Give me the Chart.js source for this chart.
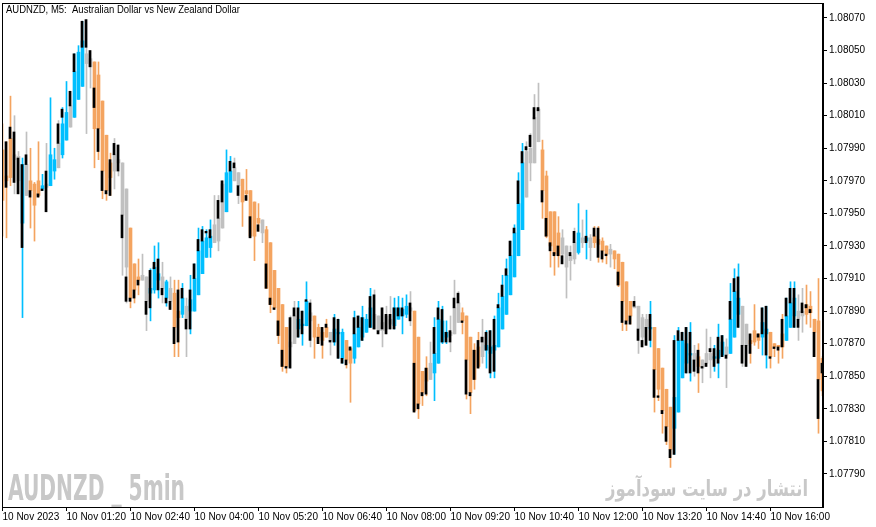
<!DOCTYPE html>
<html>
<head>
<meta charset="utf-8">
<script src="https://cdn.jsdelivr.net/npm/chart.js@4.4.0/dist/chart.umd.min.js"></script>
<style>
  html, body { margin: 0; padding: 0; background: #fff; }
  #wrap { width: 876px; height: 527px; }
</style>
</head>
<body>
<div id="wrap"><canvas id="grafica" width="876" height="527"></canvas></div>
<script>
// AUDNZD M5, 10 Nov 2023 - coloured candles (u = up / blue, d = down / orange, n = neutral / grey)
const open = [
1.07989,1.07973,1.07996,1.07986,1.07985,1.07944,1.07980,1.07970,1.07968,1.07970,
1.07965,1.07968,1.07967,1.07976,1.07993,1.07986,1.07995,1.08016,1.08009,1.08020,
1.08028,1.08048,1.08045,1.08043,1.08035,1.08019,1.07998,1.07981,1.07986,1.07983,
1.07981,1.07965,1.07941,1.07919,1.07911,1.07912,1.07911,1.07901,1.07903,1.07909,
1.07911,1.07898,1.07904,1.07901,1.07890,1.07888,1.07893,1.07890,1.07890,1.07900,
1.07913,1.07923,1.07929,1.07943,1.07947,1.07968,1.07951,1.07963,1.07978,1.07975,
1.07971,1.07964,1.07964,1.07957,1.07947,1.07946,1.07940,1.07932,1.07915,1.07904,
1.07894,1.07880,1.07871,1.07887,1.07879,1.07881,1.07881,1.07889,1.07887,1.07880,
1.07877,1.07880,1.07877,1.07871,1.07876,1.07861,1.07872,1.07867,1.07861,1.07868,
1.07874,1.07877,1.07880,1.07888,1.07887,1.07883,1.07887,1.07885,1.07881,1.07885,
1.07887,1.07888,1.07892,1.07890,1.07874,1.07853,1.07855,1.07858,1.07852,1.07858,
1.07871,1.07874,1.07877,1.07892,1.07895,1.07889,1.07887,1.07874,1.07866,1.07868,
1.07874,1.07866,1.07864,1.07866,1.07868,1.07879,1.07888,1.07900,1.07911,1.07924,
1.07940,1.07988,1.07990,1.08009,1.08014,1.07989,1.07973,1.07951,1.07951,1.07938,
1.07935,1.07930,1.07924,1.07932,1.07926,1.07935,1.07933,1.07935,1.07936,1.07934,
1.07933,1.07930,1.07928,1.07927,1.07925,1.07920,1.07908,1.07896,1.07893,1.07893,
1.07886,1.07885,1.07879,1.07880,1.07867,1.07855,1.07842,1.07831,1.07818,1.07828,
1.07849,1.07858,1.07863,1.07864,1.07862,1.07860,1.07864,1.07864,1.07861,1.07861,
1.07863,1.07868,1.07864,1.07874,1.07888,1.07893,1.07882,1.07872,1.07878,1.07876,
1.07874,1.07876,1.07877,1.07870,1.07869,1.07876,1.07872,1.07880,1.07887,1.07890,
1.07890,1.07894,1.07893,1.07885,1.07884,1.07861];
const close = [
1.07958,1.07970,1.07972,1.07983,1.07970,1.07980,1.07961,1.07964,1.07955,1.07961,
1.07967,1.07966,1.07986,1.07983,1.07978,1.08005,1.08012,1.08003,1.08037,1.08049,
1.08056,1.08042,1.08040,1.08002,1.08002,1.07976,1.07964,1.07972,1.07976,1.07981,
1.07949,1.07917,1.07898,1.07903,1.07909,1.07909,1.07896,1.07904,1.07917,1.07913,
1.07904,1.07908,1.07896,1.07880,1.07886,1.07898,1.07885,1.07897,1.07910,1.07927,
1.07933,1.07935,1.07936,1.07932,1.07933,1.07941,1.07975,1.07976,1.07970,1.07967,
1.07957,1.07962,1.07936,1.07936,1.07944,1.07938,1.07904,1.07894,1.07892,1.07875,
1.07856,1.07856,1.07868,1.07870,1.07885,1.07882,1.07896,1.07884,1.07874,1.07874,
1.07872,1.07874,1.07872,1.07879,1.07877,1.07877,1.07860,1.07858,1.07876,1.07880,
1.07886,1.07885,1.07892,1.07879,1.07878,1.07878,1.07879,1.07882,1.07892,1.07892,
1.07891,1.07893,1.07890,1.07829,1.07833,1.07840,1.07847,1.07848,1.07864,1.07885,
1.07884,1.07877,1.07875,1.07876,1.07883,1.07884,1.07860,1.07840,1.07848,1.07856,
1.07862,1.07869,1.07868,1.07869,1.07892,1.07899,1.07912,1.07924,1.07938,1.07956,
1.07981,1.07960,1.07981,1.07981,1.07994,1.07964,1.07936,1.07930,1.07925,1.07924,
1.07925,1.07917,1.07921,1.07922,1.07938,1.07932,1.07935,1.07929,1.07932,1.07931,
1.07927,1.07925,1.07925,1.07922,1.07906,1.07896,1.07884,1.07887,1.07892,1.07879,
1.07874,1.07880,1.07880,1.07854,1.07842,1.07829,1.07819,1.07805,1.07837,1.07872,
1.07872,1.07870,1.07864,1.07860,1.07856,1.07855,1.07858,1.07860,1.07862,1.07866,
1.07871,1.07863,1.07885,1.07902,1.07898,1.07869,1.07869,1.07870,1.07871,1.07872,
1.07883,1.07879,1.07862,1.07868,1.07868,1.07868,1.07887,1.07895,1.07898,1.07885,
1.07887,1.07888,1.07889,1.07877,1.07848,1.07841];
const high = [
1.08005,1.07994,1.08022,1.08010,1.07988,1.07984,1.08000,1.07990,1.07969,1.07994,
1.07974,1.07993,1.08021,1.07990,1.08007,1.08015,1.08031,1.08025,1.08048,1.08053,
1.08068,1.08069,1.08050,1.08043,1.08043,1.08019,1.07998,1.07987,1.07996,1.07992,
1.07981,1.07965,1.07941,1.07919,1.07922,1.07925,1.07911,1.07916,1.07930,1.07932,
1.07920,1.07909,1.07911,1.07909,1.07909,1.07907,1.07898,1.07912,1.07919,1.07941,
1.07942,1.07940,1.07946,1.07961,1.07961,1.07970,1.07989,1.07985,1.07984,1.07975,
1.07971,1.07977,1.07964,1.07957,1.07956,1.07946,1.07942,1.07932,1.07915,1.07904,
1.07894,1.07880,1.07887,1.07896,1.07896,1.07890,1.07908,1.07897,1.07887,1.07882,
1.07880,1.07885,1.07877,1.07888,1.07885,1.07879,1.07872,1.07868,1.07890,1.07887,
1.07893,1.07888,1.07904,1.07903,1.07887,1.07892,1.07893,1.07899,1.07898,1.07899,
1.07898,1.07900,1.07902,1.07890,1.07874,1.07853,1.07862,1.07871,1.07886,1.07896,
1.07893,1.07884,1.07887,1.07909,1.07902,1.07892,1.07887,1.07874,1.07870,1.07877,
1.07885,1.07878,1.07878,1.07887,1.07901,1.07912,1.07922,1.07933,1.07943,1.07975,
1.07993,1.07994,1.07999,1.08023,1.08030,1.07995,1.07976,1.07951,1.07951,1.07948,
1.07940,1.07930,1.07930,1.07941,1.07956,1.07946,1.07952,1.07937,1.07942,1.07942,
1.07935,1.07930,1.07931,1.07927,1.07925,1.07920,1.07908,1.07896,1.07899,1.07893,
1.07888,1.07888,1.07896,1.07880,1.07867,1.07855,1.07842,1.07831,1.07875,1.07880,
1.07877,1.07880,1.07883,1.07869,1.07870,1.07860,1.07879,1.07874,1.07869,1.07882,
1.07875,1.07873,1.07907,1.07916,1.07919,1.07893,1.07882,1.07876,1.07894,1.07876,
1.07892,1.07893,1.07877,1.07870,1.07869,1.07888,1.07898,1.07908,1.07908,1.07900,
1.07904,1.07906,1.07902,1.07885,1.07910,1.07862];
const low = [
1.07936,1.07935,1.07967,1.07962,1.07962,1.07886,1.07961,1.07941,1.07933,1.07960,
1.07964,1.07951,1.07967,1.07971,1.07978,1.07984,1.07995,1.08003,1.08009,1.08020,
1.08028,1.07999,1.08027,1.07978,1.07983,1.07959,1.07958,1.07961,1.07965,1.07973,
1.07912,1.07895,1.07892,1.07895,1.07900,1.07909,1.07878,1.07884,1.07901,1.07898,
1.07895,1.07893,1.07891,1.07862,1.07862,1.07886,1.07862,1.07876,1.07890,1.07900,
1.07913,1.07923,1.07923,1.07932,1.07927,1.07941,1.07951,1.07963,1.07970,1.07956,
1.07942,1.07958,1.07935,1.07921,1.07939,1.07932,1.07904,1.07889,1.07891,1.07870,
1.07853,1.07852,1.07855,1.07870,1.07874,1.07869,1.07881,1.07868,1.07861,1.07870,
1.07861,1.07874,1.07863,1.07869,1.07861,1.07858,1.07855,1.07834,1.07858,1.07868,
1.07872,1.07877,1.07880,1.07879,1.07876,1.07868,1.07876,1.07879,1.07879,1.07885,
1.07876,1.07886,1.07881,1.07828,1.07824,1.07832,1.07838,1.07848,1.07835,1.07858,
1.07870,1.07870,1.07865,1.07876,1.07883,1.07876,1.07836,1.07827,1.07842,1.07855,
1.07858,1.07855,1.07849,1.07849,1.07868,1.07879,1.07888,1.07900,1.07911,1.07924,
1.07940,1.07960,1.07970,1.07981,1.07994,1.07947,1.07935,1.07917,1.07912,1.07917,
1.07919,1.07898,1.07909,1.07919,1.07925,1.07929,1.07922,1.07921,1.07929,1.07920,
1.07920,1.07919,1.07917,1.07916,1.07905,1.07878,1.07878,1.07882,1.07892,1.07864,
1.07868,1.07869,1.07868,1.07828,1.07835,1.07815,1.07808,1.07794,1.07802,1.07828,
1.07849,1.07852,1.07847,1.07850,1.07840,1.07846,1.07856,1.07849,1.07853,1.07849,
1.07862,1.07843,1.07864,1.07874,1.07880,1.07856,1.07856,1.07858,1.07869,1.07867,
1.07863,1.07855,1.07855,1.07862,1.07858,1.07861,1.07872,1.07880,1.07880,1.07872,
1.07877,1.07882,1.07880,1.07862,1.07815,1.07838];
// plain chart candles, drawn as the thin black bodies
const realOpen = [
null,1.07994,1.08003,1.08000,1.07984,1.07929,1.07986,1.07964,null,1.07962,
1.07964,1.07976,null,null,1.08005,1.08009,null,1.08025,1.08037,null,
1.08052,1.08069,1.08050,1.08027,1.08002,1.07976,1.07964,1.07983,1.07993,1.07992,
1.07949,1.07911,1.07898,1.07903,1.07909,null,1.07896,1.07892,1.07916,1.07903,
1.07904,1.07895,1.07896,1.07880,1.07903,1.07898,1.07885,1.07879,1.07910,1.07927,
1.07933,1.07938,1.07935,null,1.07958,1.07970,null,1.07976,1.07981,1.07967,
null,1.07961,1.07948,null,1.07943,null,1.07919,1.07898,1.07892,1.07884,
1.07866,1.07856,1.07886,1.07892,1.07874,1.07876,1.07896,1.07895,null,1.07874,
1.07880,1.07882,1.07872,1.07871,1.07861,1.07858,1.07860,1.07868,1.07876,1.07880,
1.07872,null,1.07880,1.07900,1.07878,1.07892,1.07888,1.07888,1.07879,1.07887,
1.07887,null,1.07895,1.07858,1.07833,1.07840,1.07855,null,1.07864,1.07885,
1.07871,1.07871,1.07878,1.07898,1.07901,1.07884,1.07860,1.07840,1.07866,1.07872,
1.07874,1.07866,1.07852,1.07853,1.07892,1.07899,1.07912,1.07924,1.07938,1.07956,
1.07981,1.07991,1.07998,1.08015,1.08015,1.07964,1.07947,1.07932,1.07926,1.07930,
1.07924,null,1.07926,1.07939,null,null,1.07932,null,1.07941,1.07941,
1.07927,1.07925,null,null,1.07914,1.07896,1.07884,1.07887,1.07896,1.07879,
1.07872,1.07880,1.07872,1.07854,1.07838,1.07829,1.07819,1.07805,1.07802,1.07872,
1.07872,1.07852,1.07852,1.07860,1.07866,1.07856,1.07858,1.07867,1.07856,1.07858,
1.07862,1.07863,1.07885,1.07902,1.07880,1.07869,1.07869,1.07876,null,1.07876,
1.07876,1.07863,1.07862,1.07868,1.07868,1.07885,1.07887,1.07895,1.07880,1.07885,
1.07895,1.07894,1.07891,1.07877,1.07848,1.07858];
const realClose = [
null,1.07966,1.07996,1.07969,1.07962,1.07980,1.07980,1.07960,null,1.07960,
1.07965,1.07951,null,null,1.07993,1.08014,null,1.08016,1.08048,null,
1.08068,1.08052,1.08040,1.08015,1.07988,1.07964,1.07962,1.07961,1.07986,1.07976,
1.07935,1.07896,1.07896,1.07898,1.07906,null,1.07888,1.07915,1.07920,1.07922,
1.07900,1.07898,1.07891,1.07870,1.07871,1.07904,1.07879,1.07903,1.07919,1.07934,
1.07940,1.07939,1.07940,null,1.07947,1.07957,null,1.07982,1.07978,1.07961,
null,1.07958,1.07935,null,1.07939,null,1.07904,1.07894,1.07891,1.07875,
1.07856,1.07855,1.07855,1.07887,1.07892,1.07890,1.07897,1.07872,null,1.07870,
1.07869,1.07880,1.07871,1.07886,1.07885,1.07861,1.07857,1.07866,1.07886,1.07887,
1.07886,null,1.07899,1.07879,1.07876,1.07879,1.07876,1.07879,1.07892,1.07892,
1.07892,null,1.07884,1.07828,1.07830,1.07838,1.07839,null,1.07880,1.07892,
1.07891,1.07877,1.07871,1.07892,1.07895,1.07883,1.07839,1.07838,1.07848,1.07855,
1.07871,1.07877,1.07878,1.07885,1.07894,1.07906,1.07916,1.07933,1.07941,1.07970,
1.07988,1.07989,1.07991,1.08008,1.08013,1.07957,1.07936,1.07927,1.07924,1.07924,
1.07919,null,1.07924,1.07932,null,null,1.07936,null,1.07936,1.07923,
1.07922,1.07924,null,null,1.07906,1.07883,1.07882,1.07882,1.07893,1.07872,
1.07868,1.07869,1.07888,1.07837,1.07837,1.07827,1.07810,1.07800,1.07872,1.07878,
1.07877,1.07880,1.07877,1.07853,1.07852,1.07855,1.07856,1.07865,1.07867,1.07874,
1.07875,1.07861,1.07896,1.07910,1.07911,1.07858,1.07856,1.07864,null,1.07874,
1.07892,1.07893,1.07861,1.07867,1.07866,1.07868,1.07898,1.07904,1.07904,1.07880,
1.07889,1.07892,1.07889,1.07862,1.07824,1.07852];
const trend = (
  "dddnnunddd" + "unuunuunuu" + "unndddddnn" + "nndddnnuuu" + "nunddunuuu" +
  "uuunnnuunn" + "dddddndddd" + "ddnnuuundd" + "ddnuuudduu" + "uuunnnnnuu" +
  "uunddddnuu" + "uunnnddddd" + "nuuuuuuuuu" + "unnnnddddd" + "nnnnunundd" +
  "ddndddddnn" + "nnuddddduu" + "uuundnnnuu" + "unuuunnddd" + "uudddduuun" +
  "nddddd").split("");

// time axis: one label every 16 bars (80 minutes)
const timeLabels = ["10 Nov 2023", "10 Nov 01:20", "10 Nov 02:40", "10 Nov 04:00", "10 Nov 05:20",
  "10 Nov 06:40", "10 Nov 08:00", "10 Nov 09:20", "10 Nov 10:40", "10 Nov 12:00",
  "10 Nov 13:20", "10 Nov 14:40", "10 Nov 16:00"];
const timeTickBars = [0, 16, 32, 48, 64, 80, 96, 112, 128, 144, 160, 176, 192];
const priceTicks = [1.07790, 1.07810, 1.07830, 1.07850, 1.07870, 1.07890, 1.07910, 1.07930,
  1.07950, 1.07970, 1.07990, 1.08010, 1.08030, 1.08050, 1.08070];

const colores = { u: "#00BFFF", d: "#F4A460", n: "#C0C0C0" };
const barColors = trend.map(t => colores[t]);

const fuente = "Liberation Sans";

// draws text squeezed horizontally to a given width
function textoAncho(ctx, txt, x, y, ancho) {
  const w = ctx.measureText(txt).width;
  ctx.save();
  ctx.translate(x, y);
  ctx.scale(ancho / w, 1);
  ctx.fillText(txt, 0, 0);
  ctx.restore();
}

const marco = {
  id: "marco",
  beforeDatasetsDraw(chart) {
    const ctx = chart.ctx;
    ctx.save();
    ctx.fillStyle = "#C8C8C8";
    ctx.textBaseline = "alphabetic";
    ctx.font = "bold 36px 'Liberation Sans Narrow', 'DejaVu Sans Condensed', sans-serif";
    textoAncho(ctx, "AUDNZD _ 5min", 8, 500, 177);
    ctx.font = "bold 22px 'DejaVu Sans', sans-serif";
    textoAncho(ctx, "انتشار در سایت سودآموز", 606, 496, 202);
    ctx.restore();
  },
  afterDraw(chart) {
    const { ctx, chartArea } = chart;
    ctx.save();
    ctx.strokeStyle = "#000";
    ctx.lineWidth = 1;
    ctx.strokeRect(chartArea.left + 0.5, chartArea.top + 0.5,
      chartArea.right - chartArea.left - 1, chartArea.bottom - chartArea.top);
    ctx.fillStyle = "#000";
    ctx.font = "10.5px '" + fuente + "'";
    ctx.textBaseline = "alphabetic";
    textoAncho(ctx, "AUDNZD, M5:  Australian Dollar vs New Zealand Dollar", 6, 13, 234);
    ctx.restore();
  }
};

function sinRelleno(s) {
  s.paddingTop = 0; s.paddingBottom = 0; s.paddingLeft = 0; s.paddingRight = 0;
}

let miGrafica = document.getElementById("grafica").getContext("2d");

var chart = new Chart(miGrafica, {
  type: "bar",
  data: {
    datasets: [
      {
        // black bodies on top
        data: realOpen.map((v, i) => ({ x: i - 0.125, y: v === null ? null : [v, realClose[i]] })),
        backgroundColor: "#000000",
        barThickness: 2,
        minBarLength: 1
      },
      {
        data: open.map((v, i) => ({ x: i, y: [v, close[i]] })),
        backgroundColor: barColors,
        barThickness: 3,
        minBarLength: 1
      },
      {
        data: low.map((v, i) => ({ x: i, y: [v, high[i]] })),
        backgroundColor: barColors,
        barThickness: 1
      }
    ]
  },
  options: {
    responsive: false,
    animation: false,
    devicePixelRatio: 1,
    events: [],
    layout: { padding: { left: 2, top: 3, right: 0, bottom: 0 } },
    datasets: { bar: { grouped: false, borderWidth: 0, borderSkipped: false } },
    plugins: { legend: { display: false }, tooltip: { enabled: false } },
    scales: {
      x: {
        type: "linear",
        offset: false,
        min: -0.125,
        max: 205.125,
        afterFit: (s) => { s.height = 20; sinRelleno(s); },
        afterBuildTicks: (s) => { s.ticks = timeTickBars.map(v => ({ value: v })); },
        grid: { offset: false, drawOnChartArea: false, drawTicks: true, tickLength: 4, color: "#000" },
        border: { display: true, color: "#000" },
        ticks: {
          autoSkip: false, maxRotation: 0, align: "start", padding: 0, color: "#000",
          font: { family: fuente, size: 10 },
          callback: (v) => timeLabels[timeTickBars.indexOf(v)]
        }
      },
      y: {
        position: "right",
        beginAtZero: false,
        min: 1.077697,
        max: 1.080792,
        afterFit: (s) => { s.width = 53; sinRelleno(s); },
        afterBuildTicks: (s) => { s.ticks = priceTicks.map(v => ({ value: v })); },
        grid: { drawOnChartArea: false, drawTicks: true, tickLength: 4, color: "#000" },
        border: { display: true, color: "#000" },
        ticks: {
          padding: 2, color: "#000",
          font: { family: fuente, size: 10 },
          callback: (v) => v.toFixed(5)
        }
      }
    }
  },
  plugins: [marco]
});
</script>
</body>
</html>
